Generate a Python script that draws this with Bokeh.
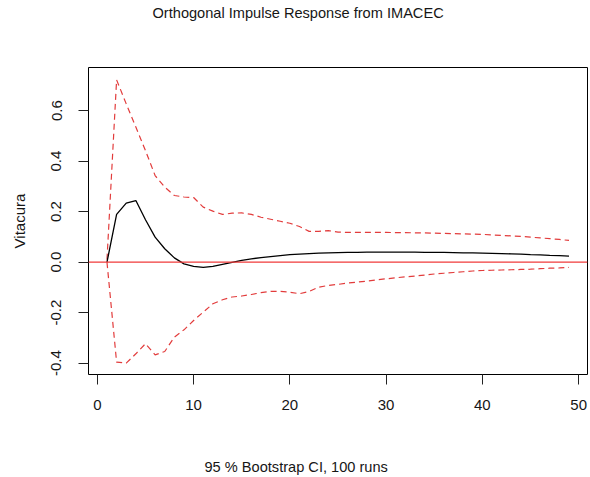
from bokeh.plotting import figure
from bokeh.models import Range1d, FixedTicker, Span, Title
from bokeh.embed import file_html
from bokeh.resources import INLINE

# Horizon steps
steps = list(range(1, 50))

# Orthogonal impulse response (IMACEC -> Vitacura)
irf = [0.000, 0.189, 0.234, 0.244, 0.168, 0.099, 0.053, 0.017, -0.007, -0.017,
       -0.021, -0.017, -0.009, -0.001, 0.007, 0.013, 0.018, 0.022, 0.026, 0.030,
       0.032, 0.034, 0.036, 0.037, 0.038, 0.039, 0.039, 0.040, 0.040, 0.040,
       0.040, 0.040, 0.040, 0.039, 0.039, 0.039, 0.038, 0.037, 0.037, 0.036,
       0.035, 0.034, 0.033, 0.032, 0.030, 0.029, 0.027, 0.026, 0.024]

# Upper bootstrap CI
upper = [0.010, 0.722, 0.627, 0.535, 0.442, 0.343, 0.297, 0.264, 0.258, 0.256,
         0.218, 0.202, 0.189, 0.194, 0.195, 0.189, 0.178, 0.170, 0.162, 0.154,
         0.141, 0.122, 0.122, 0.125, 0.119, 0.118, 0.118, 0.118, 0.118, 0.118,
         0.117, 0.117, 0.116, 0.116, 0.115, 0.114, 0.113, 0.112, 0.111, 0.110,
         0.108, 0.106, 0.104, 0.102, 0.099, 0.096, 0.093, 0.090, 0.086]

# Lower bootstrap CI
lower = [0.000, -0.396, -0.400, -0.363, -0.323, -0.367, -0.354, -0.297, -0.268, -0.231,
         -0.198, -0.165, -0.149, -0.138, -0.134, -0.128, -0.121, -0.116, -0.116, -0.119,
         -0.125, -0.116, -0.099, -0.092, -0.088, -0.083, -0.079, -0.075, -0.070, -0.066,
         -0.062, -0.058, -0.055, -0.051, -0.047, -0.044, -0.041, -0.038, -0.035, -0.033,
         -0.032, -0.031, -0.030, -0.029, -0.028, -0.026, -0.024, -0.023, -0.021]

x_ticks = [0, 10, 20, 30, 40, 50]
y_ticks = [-0.4, -0.2, 0.0, 0.2, 0.4, 0.6]
y_tick_labels = ["-0.4", "-0.2", "0.0", "0.2", "0.4", "0.6"]

title_text = "Orthogonal Impulse Response from IMACEC"
xlabel_text = "95 % Bootstrap CI,  100 runs"
ylabel_text = "Vitacura"

FONT = "Liberation Sans"
TXT = "#161616"

p = figure(width=590, height=477, output_backend="svg", toolbar_location=None,
           x_range=Range1d(-0.92, 50.92), y_range=Range1d(-0.445, 0.771),
           min_border_left=88, min_border_right=3, min_border_top=67, min_border_bottom=103)

p.title = Title(text=title_text, align="left", offset=64,
                text_font=FONT, text_font_size="14.6px", text_font_style="normal",
                text_color=TXT, standoff=0)
# spacer between frame and title
p.add_layout(Title(text=" ", text_font_size="2px", standoff=43), "above")

# spacer between x axis and the x label, then the label itself
p.add_layout(Title(text=" ", text_font_size="2px", standoff=40), "below")
p.add_layout(Title(text=xlabel_text, align="left", offset=116,
                   text_font=FONT, text_font_size="14.6px", text_font_style="normal",
                   text_color=TXT, standoff=0), "below")

p.background_fill_color = "white"
p.border_fill_color = "white"
p.outline_line_color = "black"
p.outline_line_width = 1
p.grid.visible = False

for ax in (p.xaxis, p.yaxis):
    ax.axis_line_color = None
    ax.major_tick_out = 10
    ax.major_tick_in = 0
    ax.minor_tick_line_color = None
    ax.major_tick_line_color = "#222222"
    ax.major_label_text_font = FONT
    ax.major_label_text_font_size = "15px"
    ax.major_label_text_color = TXT

p.xaxis.major_label_standoff = 15
p.yaxis.major_label_standoff = 17
p.xaxis.ticker = FixedTicker(ticks=x_ticks)
p.yaxis.ticker = FixedTicker(ticks=y_ticks)
p.yaxis.major_label_overrides = {t: s for t, s in zip(y_ticks, y_tick_labels)}
p.yaxis.major_label_orientation = "vertical"
p.yaxis.axis_label = ylabel_text
p.yaxis.axis_label_text_font = FONT
p.yaxis.axis_label_text_font_size = "15px"
p.yaxis.axis_label_text_font_style = "normal"
p.yaxis.axis_label_text_color = TXT
p.yaxis.axis_label_standoff = 21

p.add_layout(Span(location=0, dimension="width", line_color="#f03a3a", line_width=1.2))

p.line(steps, upper, line_color="#e23c3c", line_dash="6 4", line_width=1.2)
p.line(steps, lower, line_color="#e23c3c", line_dash="6 4", line_width=1.2)
p.line(steps, irf, line_color="black", line_width=1.3)

open("out.html", "w").write(file_html(p, INLINE))
